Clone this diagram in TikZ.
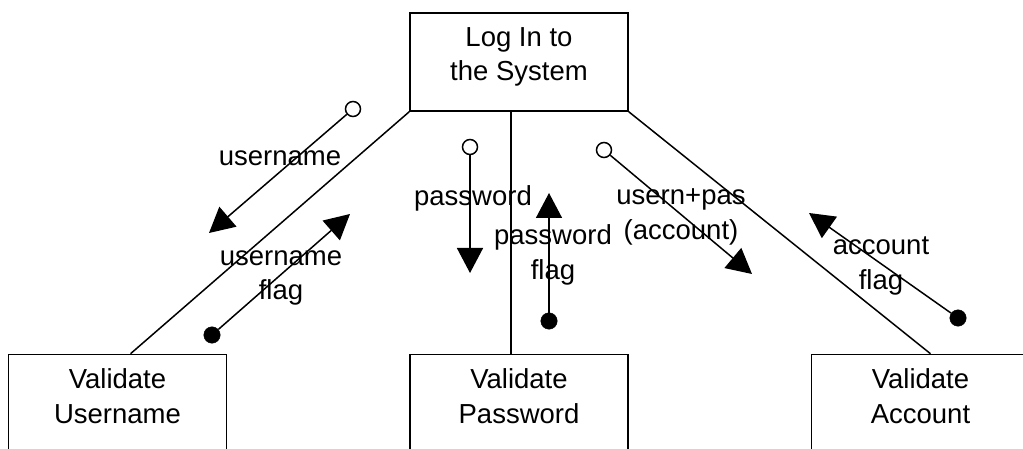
\documentclass[tikz,border=0pt]{standalone}
\usepackage{fontspec}
\setmainfont{Liberation Sans}
\usetikzlibrary{arrows.meta, positioning}
\tikzset{
  module/.style={
    rectangle,
    draw=black,
    line width=1.5pt,
    minimum width=218pt,
    minimum height=98pt,
    inner sep=0pt
  },
  modtext/.style={
    anchor=north,
    inner sep=0pt,
    align=center,
    font=\fontsize{27.5pt}{34.5pt}\selectfont
  },
  link/.style={
    line width=1.5pt
  },
  flow/.style={
    line width=1.5pt,
    -{Triangle[length=25pt, width=26pt]}
  },
  datacpl/.style={circle, draw=black, line width=1.5pt, fill=white, inner sep=0pt, minimum size=15pt},
  flagcpl/.style={circle, draw=black, fill=black, inner sep=0pt, minimum size=16.5pt},
  cpllabel/.style={
    align=center,
    inner sep=0pt,
    font=\fontsize{27.5pt}{34.5pt}\selectfont
  }
}

\begin{document}
\begin{tikzpicture}[x=1pt, y=-1pt, node distance=242pt and 182pt]
  \useasboundingbox (0,0) rectangle (1023,449);
  % Modules
  \node[module] (sys) at (519,62) {};
  \node[module, below=of sys] (pass) {};
  \node[module, left=of pass] (user) {};
  \node[module, right=of pass] (acct) {};
  \node[modtext] (systxt) at ([yshift=-15pt]sys.north) {Log In to\\the System};
  \node[modtext] (usertxt) at ([yshift=-15pt]user.north) {Validate\\Username};
  \node[modtext] (passtxt) at ([yshift=-15pt]pass.north) {Validate\\Password};
  \node[modtext] (accttxt) at ([yshift=-15pt]acct.north) {Validate\\Account};

  % Calls
  \draw[link] (sys.south west) -- ([xshift=13pt]user.north);
  \draw[link] ([xshift=-8pt]sys.south) -- ([xshift=-8pt]pass.north);
  \draw[link] (sys.south east) -- ([xshift=10pt]acct.north);

  % Couples
  \node[datacpl] (un) at (353,109) {};
  \coordinate (unend) at (209,233);
  \draw[flow] (un) -- (unend);
  \node[cpllabel] (unlbl) at (280,158) {username};

  \node[flagcpl] (unf) at (212,335) {};
  \coordinate (unfend) at (350,214);
  \draw[flow] (unf) -- (unfend);
  \node[cpllabel] (unflbl) at (281,278) {username\\flag};

  \node[datacpl] (pw) at (470,147) {};
  \coordinate (pwend) at (470,273);
  \draw[flow] (pw) -- (pwend);
  \node[cpllabel] (pwlbl) at (473,198) {password};

  \node[flagcpl] (pwf) at (549,321) {};
  \coordinate (pwfend) at (549,193);
  \draw[flow] (pwf) -- (pwfend);
  \node[cpllabel] (pwflbl) at (553,255) {password\\flag};

  \node[datacpl] (ac) at (604,150) {};
  \coordinate (acend) at (752,274);
  \draw[flow] (ac) -- (acend);
  \node[cpllabel] (aclbl) at (681,217) {usern+pas\\(account)};

  \node[flagcpl] (acf) at (958,318) {};
  \coordinate (acfend) at (809,213);
  \draw[flow] (acf) -- (acfend);
  \node[cpllabel] (acflbl) at (881,266) {account\\flag};
\end{tikzpicture}
\end{document}
